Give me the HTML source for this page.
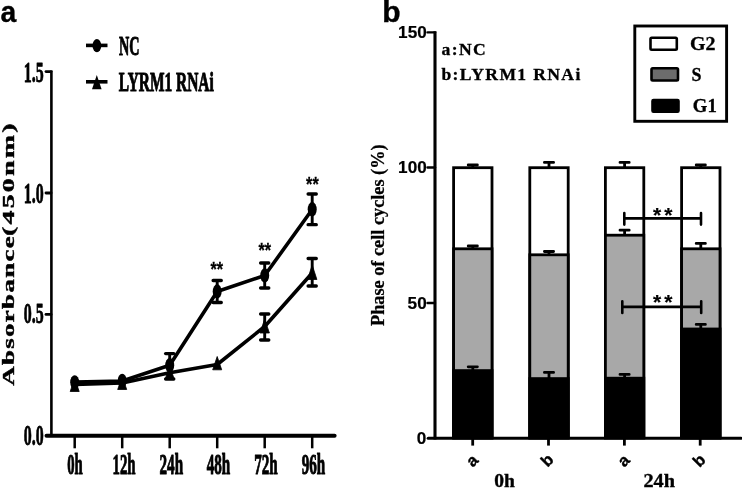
<!DOCTYPE html>
<html>
<head>
<meta charset="utf-8">
<title>Figure</title>
<style>
  html, body { margin: 0; padding: 0; background: #ffffff; }
  body { width: 742px; height: 488px; overflow: hidden; font-family: "Liberation Sans", sans-serif; }
  svg { display: block; will-change: transform; filter: grayscale(1); }
  .serif { font-family: "Liberation Serif", serif; font-weight: bold; fill: #000; }
  .cond { stroke: #000; stroke-width: 1.05px; stroke-linejoin: round; }
  .sans { font-family: "Liberation Sans", sans-serif; font-weight: bold; fill: #000; }
</style>
</head>
<body>
<svg width="742" height="488" viewBox="0 0 742 488">
  <rect x="0" y="0" width="742" height="488" fill="#ffffff"/>

  <!-- ================= PANEL A ================= -->
  <text class="sans" transform="translate(0.4,21.7) scale(1,1.07)" font-size="28.3" stroke="#000" stroke-width="0.35">a</text>

  <!-- legend -->
  <g stroke="#000" stroke-width="3" fill="#000">
    <line x1="86" y1="45.4" x2="107.5" y2="45.4" stroke-width="3.6"/>
    <ellipse cx="96.9" cy="45.7" rx="4.4" ry="6.6" stroke="none"/>
    <line x1="86" y1="81.8" x2="107.5" y2="81.8" stroke-width="3.6"/>
    <polygon points="96.8,75 101.6,89.3 92,89.3" stroke="none"/>
  </g>
  <text class="serif cond" x="119" y="54.6" font-size="27.5" textLength="20.5" lengthAdjust="spacingAndGlyphs">NC</text>
  <text class="serif cond" x="118.8" y="91.3" font-size="27" textLength="95" lengthAdjust="spacingAndGlyphs">LYRM1 RNAi</text>

  <!-- axes -->
  <g stroke="#000" fill="none">
    <line x1="51.4" y1="70.4" x2="51.4" y2="436.5" stroke-width="2.6"/>
    <line x1="46.5" y1="435.8" x2="334.6" y2="435.8" stroke-width="4" stroke-linecap="round"/>
    <!-- y ticks -->
    <line x1="46" y1="71.6" x2="51" y2="71.6" stroke-width="2.9" stroke-linecap="round"/>
    <line x1="46" y1="193" x2="51" y2="193" stroke-width="2.9" stroke-linecap="round"/>
    <line x1="46" y1="314.4" x2="51" y2="314.4" stroke-width="2.9" stroke-linecap="round"/>
    <!-- x ticks -->
    <g stroke-width="2.5">
      <line x1="74.7" y1="435" x2="74.7" y2="448.3"/>
      <line x1="122.2" y1="435" x2="122.2" y2="448.3"/>
      <line x1="169.7" y1="435" x2="169.7" y2="448.3"/>
      <line x1="217.2" y1="435" x2="217.2" y2="448.3"/>
      <line x1="264.7" y1="435" x2="264.7" y2="448.3"/>
      <line x1="312.2" y1="435" x2="312.2" y2="448.3"/>
    </g>
  </g>

  <!-- y tick labels -->
  <g class="serif cond" font-size="29.5" text-anchor="end" style="stroke-width:0.85px">
    <text x="43.7" y="82" textLength="19.9" lengthAdjust="spacingAndGlyphs">1.5</text>
    <text x="43.7" y="202.7" textLength="19.9" lengthAdjust="spacingAndGlyphs">1.0</text>
    <text x="43.7" y="323.3" textLength="19.9" lengthAdjust="spacingAndGlyphs">0.5</text>
    <text x="43.7" y="444.9" textLength="19.9" lengthAdjust="spacingAndGlyphs">0.0</text>
  </g>
  <!-- x tick labels -->
  <g class="serif cond" font-size="29" text-anchor="middle">
    <text x="75" y="473.7" textLength="15.5" lengthAdjust="spacingAndGlyphs">0h</text>
    <text x="124" y="473.7" textLength="23" lengthAdjust="spacingAndGlyphs">12h</text>
    <text x="171.3" y="473.7" textLength="23.5" lengthAdjust="spacingAndGlyphs">24h</text>
    <text x="218.5" y="473.7" textLength="23.5" lengthAdjust="spacingAndGlyphs">48h</text>
    <text x="266" y="473.7" textLength="23.5" lengthAdjust="spacingAndGlyphs">72h</text>
    <text x="313.5" y="473.7" textLength="23.5" lengthAdjust="spacingAndGlyphs">96h</text>
  </g>

  <!-- y axis label -->
  <g class="serif" font-size="16" stroke="#000" stroke-width="0.4">
    <text transform="translate(14,385.8) rotate(-90) scale(1.68,1)" textLength="89" lengthAdjust="spacing">Absorbance</text>
    <text transform="translate(14,236) rotate(-90) scale(1.74,1)" textLength="64.6" lengthAdjust="spacing">(450nm)</text>
  </g>

  <!-- data lines -->
  <g stroke="#000" stroke-width="3.6" fill="none" stroke-linejoin="round" stroke-linecap="round">
    <polyline points="74.7,382 122.2,381 169.7,365.3 217.2,291.5 264.7,275.5 312.2,209.5"/>
    <polyline points="74.7,384.5 122.2,383 169.7,372.7 217.2,364.5 264.7,326.5 312.2,273"/>
  </g>
  <!-- error bar stems -->
  <g stroke="#000" stroke-width="2.9" fill="none">
    <path d="M169.7 353.5 V375"/>
    <path d="M217.2 280.5 V302.5"/>
    <path d="M264.7 263 V288"/>
    <path d="M312.2 194 V224.7"/>
    <path d="M169.7 368 V379"/>
    <path d="M264.7 314 V340"/>
    <path d="M312.2 258.5 V286"/>
  </g>
  <!-- error bar caps -->
  <g stroke="#000" stroke-width="3.3" fill="none" stroke-linecap="round">
    <path d="M165.6 353.6 H173.8"/>
    <path d="M213.1 280.5 H221.3 M213.1 302.5 H221.3"/>
    <path d="M260.6 263 H268.8 M260.6 288 H268.8"/>
    <path d="M308.1 194 H316.3 M308.1 224.7 H316.3"/>
    <path d="M165.6 379 H173.8"/>
    <path d="M260.6 314 H268.8 M260.6 340 H268.8"/>
    <path d="M308.1 258.5 H316.3 M308.1 286 H316.3"/>
  </g>
  <!-- markers NC (ellipses) -->
  <g fill="#000">
    <ellipse cx="74.7" cy="382.3" rx="4.5" ry="7"/>
    <ellipse cx="122.2" cy="380.8" rx="4.5" ry="7"/>
    <ellipse cx="169.7" cy="365.3" rx="4.5" ry="7.2"/>
    <ellipse cx="217.2" cy="291.5" rx="4.5" ry="7.2"/>
    <ellipse cx="264.7" cy="275.5" rx="4.5" ry="7.2"/>
    <ellipse cx="312.2" cy="209.3" rx="4.5" ry="7.2"/>
  </g>
  <!-- markers RNAi (triangles) -->
  <g fill="#000" stroke="#000" stroke-width="0.8" stroke-linejoin="round">
    <polygon points="74.7,378.5 79.2,391.5 70.2,391.5"/>
    <polygon points="122.2,376.5 126.7,389.5 117.7,389.5"/>
    <polygon points="169.7,366 174.2,379 165.2,379"/>
    <polygon points="217.2,356.5 221.7,369.8 212.7,369.8"/>
    <polygon points="264.7,319 269.4,333 260,333"/>
    <polygon points="312.2,265 316.9,279.5 307.5,279.5"/>
  </g>
  <!-- significance stars -->
  <g class="sans" font-size="21" text-anchor="middle" stroke="#000" stroke-width="0.3">
    <text x="216.8" y="276.3" textLength="12.6" lengthAdjust="spacingAndGlyphs">**</text>
    <text x="264.7" y="257.2" textLength="12.6" lengthAdjust="spacingAndGlyphs">**</text>
    <text x="312.4" y="191.4" textLength="12.6" lengthAdjust="spacingAndGlyphs">**</text>
  </g>

  <!-- ================= PANEL B ================= -->
  <text class="sans" x="382.3" y="21.8" font-size="30" stroke="#000" stroke-width="0.4">b</text>

  <!-- key text -->
  <text class="serif" transform="translate(441.5,55) scale(1.1,1)" font-size="16" textLength="40.2" lengthAdjust="spacing" stroke="#000" stroke-width="0.3">a:NC</text>
  <text class="serif" transform="translate(441.5,80.1) scale(1.1,1)" font-size="16" textLength="126.2" lengthAdjust="spacing" stroke="#000" stroke-width="0.3">b:LYRM1 RNAi</text>

  <!-- legend box -->
  <rect x="634.8" y="26" width="91.8" height="95.3" fill="#fff" stroke="#000" stroke-width="2.9"/>
  <rect x="650.5" y="37.8" width="26.3" height="11.9" rx="1.2" fill="#fff" stroke="#000" stroke-width="2.6"/>
  <rect x="651.5" y="68.3" width="26.5" height="12.2" rx="1.2" fill="#6c6c6c" stroke="#000" stroke-width="2.6"/>
  <rect x="652" y="99.5" width="27" height="12.7" rx="1.5" fill="#000" stroke="#000" stroke-width="1.6"/>
  <text class="serif" x="690" y="50" font-size="18" textLength="25.5" lengthAdjust="spacingAndGlyphs" stroke="#000" stroke-width="0.3">G2</text>
  <text class="serif" x="691.5" y="80.5" font-size="18" textLength="10" lengthAdjust="spacingAndGlyphs" stroke="#000" stroke-width="0.3">S</text>
  <text class="serif" x="692.8" y="112" font-size="18" textLength="24" lengthAdjust="spacingAndGlyphs" stroke="#000" stroke-width="0.3">G1</text>

  <!-- bars -->
  <g stroke="#000" stroke-width="2.8">
    <!-- bar 1 -->
    <rect x="453.6" y="167.7" width="38.4" height="270" fill="#fff"/>
    <rect x="453.6" y="248.8" width="38.4" height="189" fill="#a8a8a8"/>
    <rect x="453.6" y="370.6" width="38.4" height="67.4" fill="#000"/>
    <!-- bar 2 -->
    <rect x="529.8" y="167.7" width="38.4" height="270" fill="#fff"/>
    <rect x="529.8" y="254.8" width="38.4" height="183" fill="#a8a8a8"/>
    <rect x="529.8" y="378.6" width="38.4" height="59.4" fill="#000"/>
    <!-- bar 3 -->
    <rect x="605.4" y="167.7" width="38.4" height="270" fill="#fff"/>
    <rect x="605.4" y="235.2" width="38.4" height="202" fill="#a8a8a8"/>
    <rect x="605.4" y="378.2" width="38.4" height="59.8" fill="#000"/>
    <!-- bar 4 -->
    <rect x="681.6" y="167.7" width="38.4" height="270" fill="#fff"/>
    <rect x="681.6" y="248.8" width="38.4" height="189" fill="#a8a8a8"/>
    <rect x="681.6" y="329" width="38.4" height="109" fill="#000"/>
  </g>
  <!-- bar error bars -->
  <g stroke="#000" stroke-width="2.8" fill="none" stroke-linecap="round">
    <path d="M472.8 167.5 V165 M468.2 165 H477.4"/>
    <path d="M549 167.5 V162.4 M544.4 162.4 H553.6"/>
    <path d="M624.6 167.5 V162.4 M620 162.4 H629.2"/>
    <path d="M700.8 167.5 V165 M696.2 165 H705.4"/>

    <path d="M472.8 248.5 V246 M468.2 246 H477.4"/>
    <path d="M549 254.5 V251.5 M544.4 251.5 H553.6"/>
    <path d="M624.6 234.5 V230.2 M620 230.2 H629.2"/>
    <path d="M700.8 248.5 V243.4 M696.2 243.4 H705.4"/>

    <path d="M472.8 370 V366.8 M468.2 366.8 H477.4"/>
    <path d="M549 378 V372.4 M544.4 372.4 H553.6"/>
    <path d="M624.6 377.5 V374.4 M620 374.4 H629.2"/>
    <path d="M700.8 328.5 V324.4 M696.2 324.4 H705.4"/>
  </g>

  <!-- axes -->
  <g stroke="#000" fill="none">
    <line x1="435" y1="31.2" x2="435" y2="439.5" stroke-width="3.1"/>
    <line x1="428.2" y1="438.3" x2="741" y2="438.3" stroke-width="3.1" stroke-linecap="round"/>
    <g stroke-width="2">
      <line x1="427.6" y1="32.4" x2="435" y2="32.4" stroke-width="2.4" stroke-linecap="round"/>
      <line x1="427.6" y1="167.5" x2="435" y2="167.5" stroke-width="2.4" stroke-linecap="round"/>
      <line x1="427.6" y1="303" x2="435" y2="303" stroke-width="2.4" stroke-linecap="round"/>
      <line x1="472.7" y1="437.5" x2="472.7" y2="445.6" stroke-width="2.8"/>
      <line x1="548.5" y1="437.5" x2="548.5" y2="445.6" stroke-width="2.8"/>
      <line x1="624.4" y1="437.5" x2="624.4" y2="445.6" stroke-width="2.8"/>
      <line x1="700.2" y1="437.5" x2="700.2" y2="445.6" stroke-width="2.8"/>
    </g>
  </g>
  <!-- y tick labels -->
  <g class="sans" font-size="16.5" text-anchor="end" stroke="#000" stroke-width="0.2">
    <text x="426.7" y="38" textLength="28.6" lengthAdjust="spacingAndGlyphs">150</text>
    <text x="426.7" y="173" textLength="28.6" lengthAdjust="spacingAndGlyphs">100</text>
    <text x="426.7" y="308.5" textLength="19.1" lengthAdjust="spacingAndGlyphs">50</text>
    <text x="426.4" y="443.9" textLength="9.55" lengthAdjust="spacingAndGlyphs">0</text>
  </g>
  <!-- y axis label -->
  <text class="serif" font-size="18" transform="translate(384.3,326) rotate(-90)" textLength="181.5" lengthAdjust="spacingAndGlyphs" stroke="#000" stroke-width="0.25">Phase of cell cycles (%)</text>

  <!-- significance brackets -->
  <g stroke="#000" stroke-width="2.6" fill="none" stroke-linecap="round">
    <path d="M624.3 218.4 H701 M624.3 213 V224.6 M701 213 V224.6"/>
    <path d="M622.3 306.9 H701.2 M622.3 301.2 V313 M701.2 301.2 V313"/>
  </g>
  <g class="sans" font-size="21" text-anchor="middle" stroke="#000" stroke-width="0.2">
    <text x="657.2" y="222">*</text><text x="668.3" y="222">*</text>
    <text x="657.2" y="309.1">*</text><text x="668.3" y="309.1">*</text>
  </g>

  <!-- x labels -->
  <g class="sans" font-size="16.5" text-anchor="middle" stroke="#000" stroke-width="0.35">
    <text transform="translate(476,464.4) rotate(-45)">a</text>
    <text transform="translate(551.1,464.3) rotate(-45)">b</text>
    <text transform="translate(627.5,464.5) rotate(-45)">a</text>
    <text transform="translate(703,464.5) rotate(-45)">b</text>
  </g>
  <g class="serif" font-size="17.8" stroke="#000" stroke-width="0.35">
    <text x="494.3" y="486.8" textLength="20.6" lengthAdjust="spacingAndGlyphs">0h</text>
    <text x="643.5" y="486.5" textLength="31.5" lengthAdjust="spacingAndGlyphs">24h</text>
  </g>
</svg>
</body>
</html>
